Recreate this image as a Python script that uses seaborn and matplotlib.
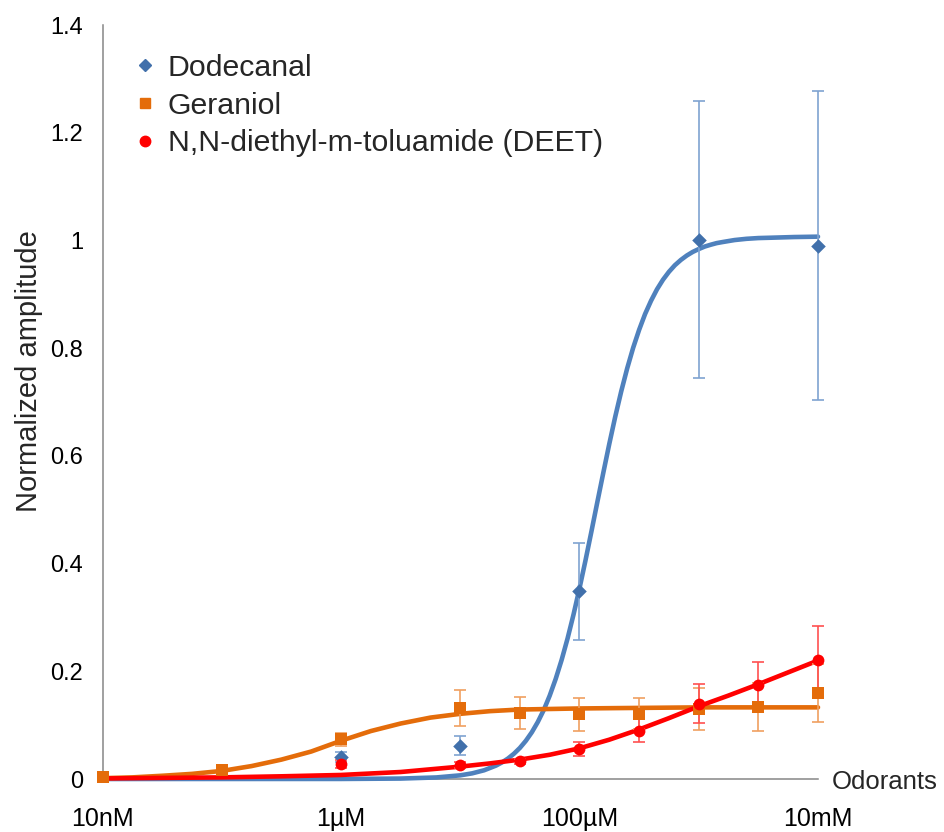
import numpy as np
import pandas as pd
import matplotlib
matplotlib.use("Agg")
import matplotlib.pyplot as plt
from matplotlib.lines import Line2D
import seaborn as sns

sns.set_style("white")
plt.rcParams['font.family'] = ['Liberation Sans', 'DejaVu Sans']

# ---------------- data (molar concentrations) ----------------
dod_conc = [1e-6, 1e-5, 1e-4, 1e-3, 1e-2]
dod_val = [0.041, 0.062, 0.349, 1.001, 0.990]
dod_err = [0.010, 0.017, 0.090, 0.257, 0.287]

ger_conc = [1e-8, 1e-7, 1e-6, 1e-5, 3.16e-5, 1e-4, 3.16e-4, 1e-3, 3.16e-3, 1e-2]
ger_val = [0.004, 0.016, 0.074, 0.132, 0.122, 0.120, 0.121, 0.130, 0.134, 0.160]
ger_err = [0.000, 0.004, 0.012, 0.033, 0.030, 0.030, 0.029, 0.039, 0.044, 0.054]

deet_conc = [1e-6, 1e-5, 3.16e-5, 1e-4, 3.16e-4, 1e-3, 3.16e-3, 1e-2]
deet_val = [0.028, 0.026, 0.033, 0.055, 0.090, 0.140, 0.174, 0.221]
deet_err = [0.008, 0.006, 0.005, 0.013, 0.022, 0.036, 0.043, 0.063]

# fitted curves (log10 molar, value)
dod_curve_logc = [-8, -6, -5.5, -5.2, -5.0, -4.9, -4.8, -4.7, -4.65, -4.6, -4.55, -4.5,
                  -4.45, -4.4, -4.35, -4.3, -4.25, -4.2, -4.15, -4.1, -4.05, -4.0,
                  -3.95, -3.9, -3.85, -3.8, -3.75, -3.7, -3.65, -3.6, -3.55, -3.5,
                  -3.45, -3.4, -3.35, -3.3, -3.25, -3.2, -3.15, -3.1, -3.05, -3.0,
                  -2.95, -2.9, -2.85, -2.8, -2.7, -2.6, -2.5, -2.4, -2.2, -2.0]
dod_curve_val = [0.0, 0.0001, 0.0008, 0.0029, 0.0068, 0.0105, 0.0162, 0.0249, 0.0308,
                 0.038, 0.0469, 0.0577, 0.0709, 0.0867, 0.1057, 0.128, 0.1547, 0.1856,
                 0.221, 0.261, 0.3055, 0.354, 0.4056, 0.4596, 0.5146, 0.569, 0.6224,
                 0.673, 0.7198, 0.7625, 0.8007, 0.834, 0.8634, 0.888, 0.9093, 0.927,
                 0.9417, 0.954, 0.9638, 0.972, 0.9787, 0.984, 0.9886, 0.992, 0.995,
                 0.997, 1.0007, 1.003, 1.0044, 1.005, 1.0063, 1.007]

ger_curve_logc = [-8, -7.75, -7.5, -7.25, -7.0, -6.75, -6.5, -6.25, -6.0, -5.75, -5.5,
                  -5.25, -5.0, -4.75, -4.5, -4.0, -3.5, -3.0, -2.0]
ger_curve_val = [0.0015, 0.003, 0.006, 0.0095, 0.015, 0.024, 0.036, 0.051, 0.071, 0.089,
                 0.103, 0.114, 0.121, 0.126, 0.129, 0.131, 0.132, 0.133, 0.133]

deet_curve_logc = [-8, -7.5, -7.0, -6.5, -6.0, -5.5, -5.0, -4.75, -4.5, -4.25, -4.0,
                   -3.75, -3.5, -3.25, -3.0, -2.75, -2.5, -2.25, -2.0]
deet_curve_val = [0.001, 0.002, 0.003, 0.005, 0.0075, 0.013, 0.023, 0.029, 0.036, 0.045,
                  0.057, 0.073, 0.092, 0.113, 0.135, 0.155, 0.176, 0.198, 0.220]

x_ticks = [1e-8, 1e-6, 1e-4, 1e-2]
x_ticklabels = ["10nM", "1\u00b5M", "100\u00b5M", "10mM"]
y_ticks = [0, 0.2, 0.4, 0.6, 0.8, 1.0, 1.2, 1.4]
y_ticklabels = ["0", "0.2", "0.4", "0.6", "0.8", "1", "1.2", "1.4"]

names = ["Dodecanal", "Geraniol", "N,N-diethyl-m-toluamide (DEET)"]

# ---------------- style ----------------
blue_line = "#4F81BD"
blue_mark = "#4170AB"
blue_err = "#7FA3D1"
orange = "#E46C0A"
orange_err = "#F0A060"
red = "#FF0000"
red_err = "#FF5050"
axis_gray = "#868686"

fig = plt.figure(figsize=(9.44, 8.32), dpi=100)
ax = fig.add_axes([102.5 / 944, 1 - 779 / 832, (818 - 102.5) / 944, (779 - 25) / 832])

# curves
curves = [
    (dod_curve_logc, dod_curve_val, blue_line),
    (ger_curve_logc, ger_curve_val, orange),
    (deet_curve_logc, deet_curve_val, red),
]
for lc, v, c in curves:
    df = pd.DataFrame({"conc": 10.0 ** np.array(lc), "val": v})
    sns.lineplot(data=df, x="conc", y="val", ax=ax, color=c, linewidth=3.3,
                 sort=False, estimator=None, zorder=3, solid_capstyle="round",
                 solid_joinstyle="round")

# error bars + markers
series = [
    (dod_conc, dod_val, dod_err, blue_mark, blue_err, "D", 55),
    (ger_conc, ger_val, ger_err, orange, orange_err, "s", 64),
    (deet_conc, deet_val, deet_err, red, red_err, "o", 72),
]
for conc, val, err, mc, ec, mk, s in series:
    ax.errorbar(conc, val, yerr=err, fmt="none", ecolor=ec, elinewidth=1.2,
                capsize=4.5, capthick=1.2, zorder=4)
    df = pd.DataFrame({"conc": conc, "val": val})
    sns.scatterplot(data=df, x="conc", y="val", ax=ax, color=mc, marker=mk, s=s,
                    edgecolor=mc, linewidth=0, zorder=5)

ax.set_xscale("log")
ax.set_xlim(1e-8, 1e-2)
ax.set_ylim(0, 1.4)
ax.set_xticks(x_ticks)
ax.set_xticklabels(x_ticklabels)
ax.minorticks_off()
ax.set_yticks(y_ticks)
ax.set_yticklabels(y_ticklabels)
ax.set_xlabel("")
ax.set_ylabel("")

for side in ["top", "right"]:
    ax.spines[side].set_visible(False)
for side in ["left", "bottom"]:
    ax.spines[side].set_color(axis_gray)
    ax.spines[side].set_linewidth(1.1)

ax.tick_params(axis="x", direction="out", length=5, width=1.1, color=axis_gray,
               labelsize=18, pad=15, labelcolor="black")
ax.tick_params(axis="y", direction="out", length=5, width=1.1, color=axis_gray,
               labelsize=17, pad=9, labelcolor="black")
for ch in ax.get_children():
    try:
        ch.set_clip_on(False)
    except Exception:
        pass

fig.text(29 / 944, 1 - 371 / 832, "Normalized amplitude", rotation=90,
         ha="center", va="center", fontsize=21)
fig.text(832 / 944, 1 - 782 / 832, "Odorants", ha="left", va="center", fontsize=18.5)

handles = [
    Line2D([], [], linestyle="none", marker="D", markersize=6.2, color=blue_mark),
    Line2D([], [], linestyle="none", marker="s", markersize=7, color=orange),
    Line2D([], [], linestyle="none", marker="o", markersize=7.5, color=red),
]
fig.legend(handles, names, loc="upper left", bbox_to_anchor=(136 / 944, 1 - 54 / 832),
           frameon=False, fontsize=21.8, handlelength=0.6, handletextpad=0.45,
           labelspacing=0.32, borderpad=0, borderaxespad=0)

fig.savefig("out.png", dpi=100)
